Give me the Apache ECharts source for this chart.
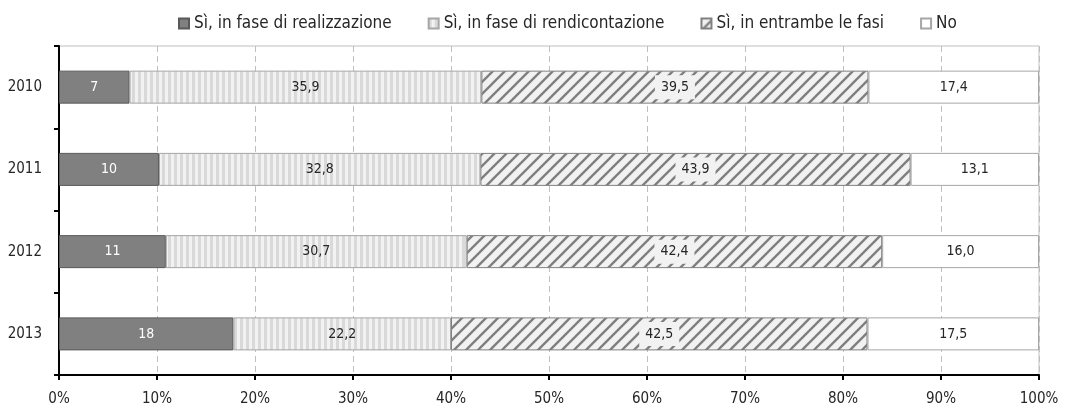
<!DOCTYPE html>
<html>
<head>
<meta charset="utf-8">
<script src="https://cdn.jsdelivr.net/npm/echarts@6/dist/echarts.min.js"></script>
<style>
html,body{margin:0;padding:0;background:#fff;}
#chart{width:1066px;height:412px;}
</style>
</head>
<body>
<div id="chart"></div>
<script>
var anni = ['2010', '2011', '2012', '2013'];
var realizzazione = [7.2, 10.2, 10.9, 17.8];
var rendicontazione = [35.9, 32.8, 30.7, 22.2];
var entrambe = [39.5, 43.9, 42.4, 42.5];
var no_data = [17.4, 13.1, 16.0, 17.5];
var nomi = ['Sì, in fase di realizzazione', 'Sì, in fase di rendicontazione', 'Sì, in entrambe le fasi', 'No'];

var FONT = '"DejaVu Sans Condensed", sans-serif';

// vertical stripes
function stripes(){
	var c = document.createElement('canvas');
	c.width = 6; c.height = 6;
	var ctx = c.getContext('2d');
	ctx.fillStyle = '#f2f2f2';
	ctx.fillRect(0, 0, 6, 6);
	ctx.fillStyle = '#d9d9d9';
	ctx.fillRect(0, 0, 3, 6);
	return c;
}

// diagonal hatch
function hatch(){
	var s = 12;
	var c = document.createElement('canvas');
	c.width = s; c.height = s;
	var ctx = c.getContext('2d');
	ctx.fillStyle = '#f2f2f2';
	ctx.fillRect(0, 0, s, s);
	ctx.strokeStyle = '#808080';
	ctx.lineWidth = 2.4;
	ctx.beginPath();
	ctx.moveTo(-1, s + 1); ctx.lineTo(s + 1, -1);
	ctx.moveTo(-1 - s, s + 1); ctx.lineTo(1, -1);
	ctx.moveTo(s - 1, s + 1); ctx.lineTo(2 * s + 1, -1);
	ctx.stroke();
	return c;
}

function fmt(d){ return d.toFixed(1).replace('.', ','); }

var myChart = echarts.init(document.getElementById('chart'));
myChart.setOption({
	animation: false,
	textStyle: {fontFamily: FONT},
	legend: {
		top: 10,
		left: 173,
		itemWidth: 10,
		itemHeight: 10,
		itemGap: 36,
		icon: 'rect',
		textStyle: {fontFamily: FONT, fontSize: 17, color: '#262626'},
		data: nomi
	},
	grid: {
		left: 59, right: 27, top: 46, bottom: 37,
		show: true, borderColor: '#bfbfbf', borderWidth: 1
	},
	xAxis: {
		type: 'value',
		min: 0, max: 100, interval: 10,
		axisLine: {show: true, lineStyle: {color: '#000', width: 2}},
		axisTick: {show: true, length: 5, lineStyle: {color: '#000', width: 2}},
		axisLabel: {formatter: '{value}%', fontFamily: FONT, fontSize: 15, color: '#262626', margin: 17},
		splitLine: {show: true, lineStyle: {color: '#bfbfbf', type: [6, 4]}}
	},
	yAxis: {
		type: 'category',
		inverse: true,
		data: anni,
		axisLine: {show: true, lineStyle: {color: '#000', width: 2}},
		axisTick: {show: true, length: 5, lineStyle: {color: '#000', width: 2}},
		axisLabel: {fontFamily: FONT, fontSize: 15, color: '#262626', margin: 17},
		splitLine: {show: false}
	},
	series: [
	{
		name: nomi[0], type: 'bar', stack: 'tot', barWidth: 33,
		data: realizzazione,
		itemStyle: {color: '#808080', borderColor: '#595959', borderWidth: 1},
		label: {show: true, position: 'inside', color: '#fff', fontFamily: FONT, fontSize: 14,
			formatter: function(p){ return Math.round(p.value); }}
	},
	{
		name: nomi[1], type: 'bar', stack: 'tot', barWidth: 33,
		data: rendicontazione,
		itemStyle: {color: {image: stripes(), repeat: 'repeat'}, borderColor: '#a6a6a6', borderWidth: 1},
		label: {show: true, position: 'inside', color: '#262626', fontFamily: FONT, fontSize: 14,
			formatter: function(p){ return fmt(p.value); }}
	},
	{
		name: nomi[2], type: 'bar', stack: 'tot', barWidth: 33,
		data: entrambe,
		itemStyle: {color: {image: hatch(), repeat: 'repeat'}, borderColor: '#808080', borderWidth: 1},
		label: {show: true, position: 'inside', color: '#262626', fontFamily: FONT, fontSize: 14,
			backgroundColor: '#f2f2f2', padding: [5, 6],
			formatter: function(p){ return fmt(p.value); }}
	},
	{
		name: nomi[3], type: 'bar', stack: 'tot', barWidth: 33,
		data: no_data,
		itemStyle: {color: '#ffffff', borderColor: '#a6a6a6', borderWidth: 1},
		label: {show: true, position: 'inside', color: '#262626', fontFamily: FONT, fontSize: 14,
			formatter: function(p){ return fmt(p.value); }}
	}
	]
});
</script>
</body>
</html>
